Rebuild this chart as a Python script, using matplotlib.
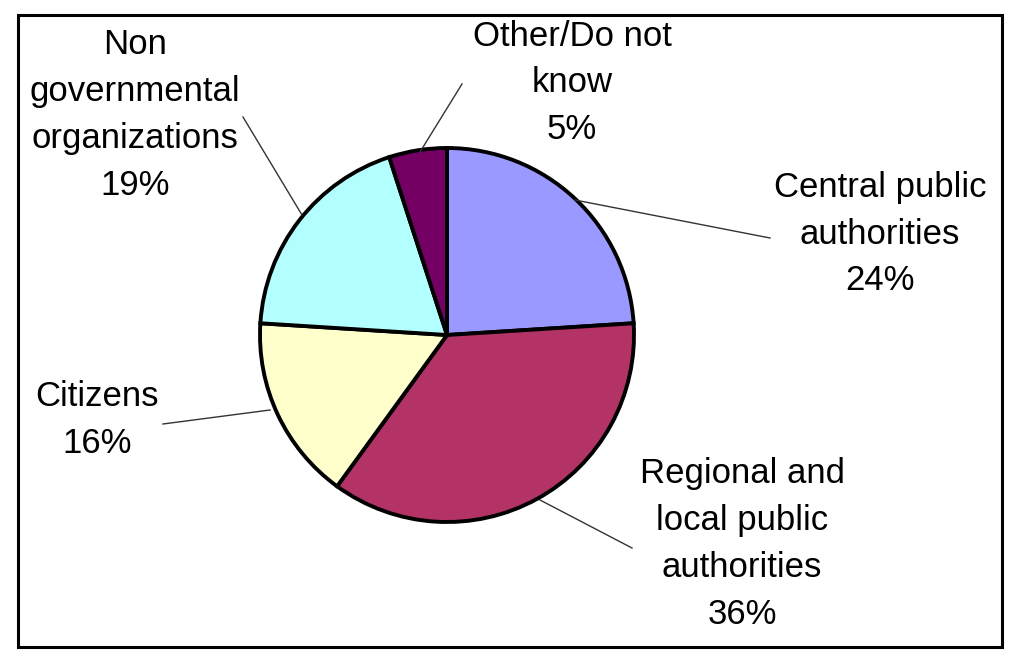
import matplotlib
matplotlib.use("Agg")
import matplotlib.pyplot as plt
from matplotlib.patches import Rectangle

categories = ["Central public\nauthorities", "Regional and\nlocal public\nauthorities",
              "Citizens", "Non\ngovernmental\norganizations", "Other/Do not\nknow"]
values = [24, 36, 16, 19, 5]
colors = ["#9999FF", "#B33366", "#FFFFCC", "#B3FFFF", "#730062"]

H = 669
fig = plt.figure(figsize=(10.24, 6.69), dpi=100)
ax = fig.add_axes([0, 0, 1, 1])
ax.set_xlim(0, 1024)
ax.set_ylim(0, H)
ax.set_aspect("equal")
ax.axis("off")

cx, cy, r = 447, H - 335, 187
ax.pie(values, colors=colors, startangle=90, counterclock=False,
       center=(cx, cy), radius=r,
       wedgeprops=dict(edgecolor="black", linewidth=2.8))
ax.set_xlim(0, 1024)
ax.set_ylim(0, H)

# label centers (image coords) and leader lines
label_pos = [(880, 234), (742, 544), (97, 420), (135, 115), (572, 83)]
leaders = [((770, 238), (575, 200)),
           ((632, 548), (540, 500)),
           ((163, 424), (270, 410)),
           ((243, 117), (302, 215)),
           ((462, 84), (420, 152))]

font = dict(family="Liberation Sans", fontsize=25)
for lab, v, (x, y) in zip(categories, values, label_pos):
    ax.text(x, H - y, f"{lab}\n{v}%", ha="center", va="center",
            linespacing=1.53, color="black", **font)

for (x0, y0), (x1, y1) in leaders:
    ax.plot([x0, x1], [H - y0, H - y1], color="#333333", linewidth=1.0)

ax.add_patch(Rectangle((18, H - 647), 984, 632, fill=False,
                       edgecolor="black", linewidth=2.2))

fig.savefig("out.png", dpi=100)
